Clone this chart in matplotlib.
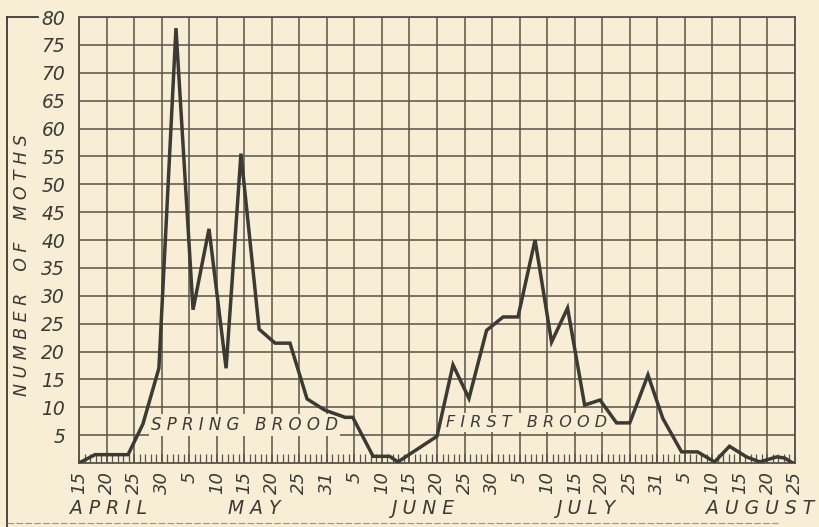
import matplotlib.pyplot as plt
from matplotlib.lines import Line2D

# days after April 15 (grid step = 5 days) and moth counts
days = [0, 2.9, 8.9, 11.6, 14.5, 17.6, 20.7, 23.6, 26.7, 29.4,
        32.7, 35.6, 38.3, 41.4, 44.6, 48.3, 49.7, 53.4, 56.4, 57.9,
        65.0, 67.9, 70.8, 74.0, 77.0, 79.7, 82.8, 85.8, 88.7, 91.8,
        94.6, 97.6, 100.0, 103.3, 106.0, 109.4, 112.3, 115.4, 118.1, 121.2,
        123.6, 126.7, 128.1, 129.6]
moths = [0, 1.5, 1.5, 7, 17, 78, 27.5, 42, 17, 55.5,
         24, 21.5, 21.5, 11.5, 9.5, 8.2, 8.2, 1.2, 1.2, 0.2,
         4.8, 17.6, 11.6, 23.8, 26.2, 26.2, 40, 21.7, 27.8, 10.4,
         11.3, 7.2, 7.2, 15.8, 8, 2, 2, 0.2, 3.0, 1.1,
         0.2, 1.1, 0.9, 0]

date_labels = ['15', '20', '25', '30',
               '5', '10', '15', '20', '25', '31',
               '5', '10', '15', '20', '25', '30',
               '5', '10', '15', '20', '25', '31',
               '5', '10', '15', '20', '25']
months = ['APRIL', 'MAY', 'JUNE', 'JULY', 'AUGUST']
month_pos = [5.3, 31.8, 62.4, 92.0, 123.6]
y_labels = list(range(5, 85, 5))

bg = '#f8eed6'
ink = '#3b3a33'
grid_col = '#58544a'

fig = plt.figure(figsize=(8.19, 5.27), dpi=100, facecolor=bg)
ax = fig.add_axes([0.0965, 0.1214, 0.8742, 0.8463], facecolor=bg)

ax.set_xlim(0, 130)
ax.set_ylim(0, 80)

# grid
ax.set_xticks(range(0, 131, 5))
ax.set_xticks(range(0, 131, 1), minor=True)
ax.set_yticks(y_labels)
ax.grid(True, which='major', color=grid_col, lw=1.1)
ax.set_axisbelow(True)
for s in ax.spines.values():
    s.set_color(grid_col)
    s.set_linewidth(1.3)

ax.set_xticklabels(date_labels, rotation=90, fontsize=13, style='italic', color=ink)
ax.set_yticklabels([str(v) for v in y_labels], fontsize=13.5, style='italic', color=ink)
ax.tick_params(axis='x', which='minor', direction='in', length=6.5, width=0.9, color=grid_col)
ax.tick_params(axis='x', which='major', direction='in', length=6.5, width=1.1, color=grid_col, pad=6)
ax.tick_params(axis='y', length=0, pad=10)

ax.plot(days, moths, color=ink, lw=2.5, solid_joinstyle='miter', zorder=5)

for m, p in zip(months, month_pos):
    ax.text(p, -0.102, ' '.join(m), transform=ax.get_xaxis_transform(),
            ha='center', va='center', fontsize=13.5, style='italic', color=ink)

box = dict(facecolor=bg, edgecolor='none', pad=1.5)
ax.text(30.0, 6.8, 'S P R I N G   B R O O D', ha='center', va='center',
        fontsize=12, style='italic', color=ink, bbox=box, zorder=4)
ax.text(81.3, 7.2, 'F I R S T   B R O O D', ha='center', va='center',
        fontsize=11.5, style='italic', color=ink, bbox=box, zorder=4)

fig.text(0.027, 0.497, 'N U M B E R    O F    M O T H S', rotation=90,
         ha='center', va='center', fontsize=12.5, style='italic', color=ink)

# bracket frame on the left edge
fig.add_artist(Line2D([0.0085, 0.0085], [0.967, 0.0], color=ink, lw=1.3))
fig.add_artist(Line2D([0.0085, 0.047], [0.967, 0.967], color=ink, lw=1.3))
fig.add_artist(Line2D([0.0085, 0.95], [0.008, 0.008], color='#9a9484', lw=0.8, ls=(0, (6, 2))))

fig.savefig('out.png', dpi=100, facecolor=bg)
